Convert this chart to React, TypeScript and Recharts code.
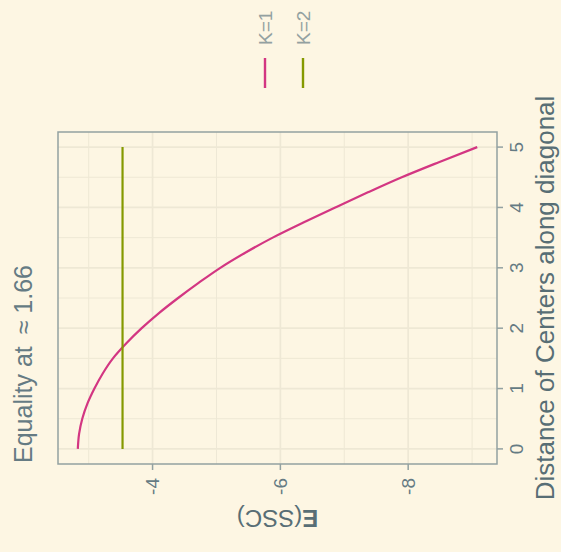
import React from 'react';

import {
  CartesianGrid,
  Legend,
  Line,
  LineChart,
  ReferenceArea,
  XAxis,
  YAxis,
} from 'recharts';

// distance between the two centers along the diagonal
const distance = [
  0, 0.25, 0.5, 0.75, 1, 1.25, 1.5, 1.75, 2, 2.25, 2.5, 2.75, 3, 3.25, 3.5,
  3.75, 4, 4.25, 4.5, 4.75, 5,
];
// expected sum of squares for one cluster
const essK1 = [
  -2.83, -2.85, -2.9, -2.98, -3.09, -3.22, -3.38, -3.59, -3.83, -4.1, -4.4,
  -4.72, -5.06, -5.45, -5.88, -6.36, -6.86, -7.37, -7.9, -8.48, -9.08,
];
// expected sum of squares for two clusters (flat)
const essK2 = [
  -3.53, -3.53, -3.53, -3.53, -3.53, -3.53, -3.53, -3.53, -3.53, -3.53, -3.53,
  -3.53, -3.53, -3.53, -3.53, -3.53, -3.53, -3.53, -3.53, -3.53, -3.53,
];

const seriesNames = ['K=1', 'K=2'];
const distanceTicks = [0, 1, 2, 3, 4, 5];
const distanceMinor = [0.5, 1.5, 2.5, 3.5, 4.5];
const essTicks = [-4, -6, -8];
const essMinor = [-3, -5, -7, -9];

const data = distance.map((d, i) => ({ distance: d, k1: essK1[i], k2: essK2[i] }));

const FONT = '"Liberation Sans", Arial, sans-serif';
const BG = '#fdf6e3';
const GRID = '#eee8d5';
const FRAME = '#93a1a1';
const colors = ['#d33682', '#859900'];

const xDomain: [number, number] = [-0.25, 5.25];
const yDomain: [number, number] = [-9.39, -2.52];

const renderLegend = () => (
  <div style={{ fontFamily: FONT, fontSize: 19, color: '#93a1a1' }}>
    {seriesNames.map((name, i) => (
      <div
        key={name}
        style={{ display: 'flex', alignItems: 'center', height: 38 }}
      >
        <svg width={30} height={4}>
          <line x1={0} y1={2} x2={30} y2={2} stroke={colors[i]} strokeWidth={2.4} />
        </svg>
        <span style={{ marginLeft: 13, lineHeight: 1 }}>{name}</span>
      </div>
    ))}
  </div>
);

const tickStyle = { fill: '#657b83', fontSize: 19, fontFamily: FONT };

const App = (): JSX.Element => {
  return (
    <div
      style={{
        position: 'absolute',
        left: 0,
        top: 0,
        width: 561,
        height: 552,
        overflow: 'hidden',
        background: BG,
      }}
    >
      {/* chart is laid out upright, then turned a quarter to the left */}
      <div
        style={{
          position: 'absolute',
          left: 0,
          top: 0,
          width: 552,
          height: 561,
          transformOrigin: '0 0',
          transform: 'translate(0px, 552px) rotate(-90deg)',
        }}
      >
        <LineChart
          width={552}
          height={561}
          data={data}
          margin={{ top: 58, right: 132, bottom: 0, left: 0 }}
          style={{ fontFamily: FONT }}
        >
          <CartesianGrid
            stroke={GRID}
            strokeWidth={1}
            horizontalValues={essMinor}
            verticalValues={distanceMinor}
          />
          <CartesianGrid
            stroke={GRID}
            strokeWidth={1.7}
            horizontalValues={essTicks}
            verticalValues={distanceTicks}
          />
          <XAxis
            dataKey='distance'
            type='number'
            domain={xDomain}
            ticks={distanceTicks}
            height={64}
            axisLine={false}
            tickSize={6}
            tickMargin={7}
            tickLine={{ stroke: FRAME, strokeWidth: 1.5 }}
            tick={tickStyle}
          />
          <YAxis
            type='number'
            domain={yDomain}
            ticks={essTicks}
            width={88}
            axisLine={false}
            tickSize={6}
            tickMargin={8}
            tickLine={{ stroke: FRAME, strokeWidth: 1.5 }}
            tick={tickStyle}
          />
          <Legend
            layout='vertical'
            align='center'
            verticalAlign='middle'
            content={renderLegend}
            wrapperStyle={{ left: 464, top: 246, width: 'auto' }}
          />
          <Line
            type='monotone'
            dataKey='k1'
            name={seriesNames[0]}
            stroke={colors[0]}
            strokeWidth={2.2}
            dot={false}
            isAnimationActive={false}
          />
          <Line
            type='linear'
            dataKey='k2'
            name={seriesNames[1]}
            stroke={colors[1]}
            strokeWidth={2.2}
            dot={false}
            isAnimationActive={false}
          />
          <ReferenceArea
            x1={xDomain[0]}
            x2={xDomain[1]}
            y1={yDomain[0]}
            y2={yDomain[1]}
            fill='none'
            fillOpacity={0}
            stroke={FRAME}
            strokeWidth={1.5}
          />
        </LineChart>
        <svg
          width={552}
          height={561}
          style={{ position: 'absolute', left: 0, top: 0, pointerEvents: 'none' }}
          fontFamily={FONT}
        >
          <text x={89} y={32} fontSize={25} fill='#657b83'>
            Equality at {'\u2009\u2248'} 1.66
          </text>
          <text x={254} y={554} fontSize={26} fill='#586e75' textAnchor='middle'>
            Distance of Centers along diagonal
          </text>
          <text
            x={42}
            y={277.5}
            fontSize={24}
            fill='#586e75'
            textAnchor='middle'
            transform='rotate(-90, 42, 277.5)'
          >
            <tspan fontWeight='bold'>E</tspan>(SSC)
          </text>
        </svg>
      </div>
    </div>
  );
};

export default App;
